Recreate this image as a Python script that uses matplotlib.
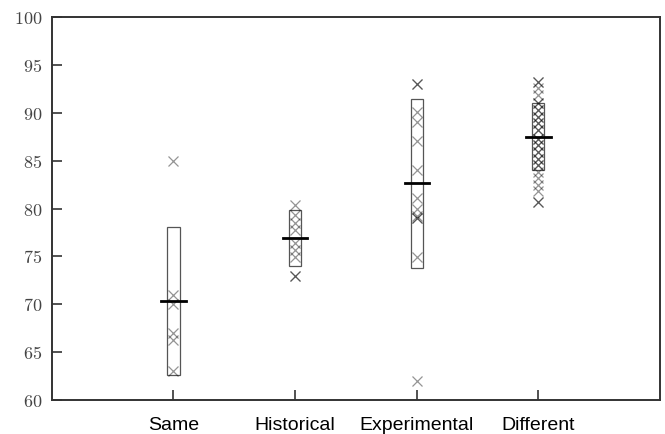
#! /usr/bin/env python
'''
Scores per condition: individual values, mean and +/- 1 std box
'''
import matplotlib
matplotlib.use('Agg')
import matplotlib.pyplot as plt
from matplotlib.patches import Rectangle

groups = ['Same', 'Historical', 'Experimental', 'Different']

same = [85, 71, 70, 67, 66.3, 63]
historical = [80.4, 79.3, 78.5, 77.8, 76.4, 75.7, 74.9, 73, 73]
experimental = [93, 93, 90.1, 89, 87, 84, 81.1, 80, 79.2, 79, 79, 74.9, 62]
different = [93.2, 93.2, 92.55, 91.85, 91.0, 91.0, 90.3, 90.3, 89.6, 89.6, 88.9,
             88.9, 88.2, 88.2, 87.3, 87.3, 86.6, 86.6, 85.9, 85.9, 85.2, 85.2,
             84.5, 84.5, 83.8, 83.2, 82.5, 81.8, 80.7, 80.7]

means = [70.3, 76.95, 82.7, 87.5]
box_lo = [62.6, 74.0, 73.8, 84.0]
box_hi = [78.1, 79.8, 91.4, 91.0]

yticks = [60, 65, 70, 75, 80, 85, 90, 95, 100]


def DoFig(filename):
    plt.rc('mathtext', fontset='cm')
    fig = plt.figure(figsize=(6.65, 4.34), dpi=100)
    ax = fig.add_axes([0.078, 0.078, 0.9145, 0.883])

    pts = [same, historical, experimental, different]
    for i, vals in enumerate(pts):
        x = i + 1
        ax.plot([x] * len(vals), vals, 'x', color='k', alpha=0.42,
                markersize=7.5, markeredgewidth=0.9, zorder=3)
        ax.add_patch(Rectangle((x - 0.05, box_lo[i]), 0.1, box_hi[i] - box_lo[i],
                               fill=False, edgecolor='#555555', linewidth=0.9, zorder=2))
        ax.plot([x - 0.1, x + 0.1], [means[i], means[i]], '-', color='k',
                linewidth=2.0, zorder=4)

    ax.set_xlim(0, 5)
    ax.set_ylim(60, 100)
    ax.set_xticks(range(1, 5))
    ax.set_xticklabels(groups, fontsize=14, family='Liberation Sans')
    ax.set_yticks(yticks)
    ax.set_yticklabels([r'$%d$' % v for v in yticks], fontsize=13, color='#444444')
    ax.tick_params(direction='in', length=7, width=1.2, color='#333333')
    ax.tick_params(axis='x', pad=12)
    ax.tick_params(axis='y', pad=7)
    for s in ax.spines.values():
        s.set_linewidth(1.4)
        s.set_color('#333333')

    fig.savefig(filename, dpi=100)


if __name__ == '__main__':
    DoFig('out.png')
